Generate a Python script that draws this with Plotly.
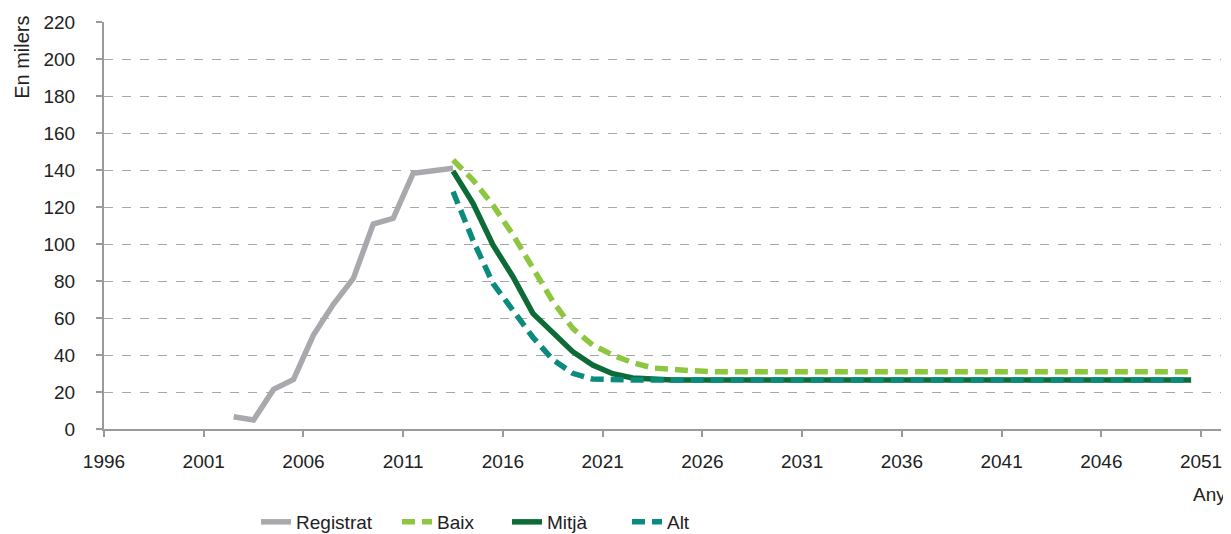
import numpy as np
import plotly.graph_objects as go

# Registered values (thousands), 2002-2013
registrat_years = list(range(2002, 2014))
registrat = [6.6, 4.9, 21.4, 26.8, 50.8, 67.4, 81.4, 110.8, 113.9, 138.2, 139.6, 140.9]

# Projection scenarios, 2013-2050
proj_years = list(range(2013, 2051))
baix = [145.4, 134.6, 121.0, 105.0, 87.0, 69.0, 54.4, 45.4, 40.0, 35.9, 33.0, 32.0, 31.5] + [31.0] * 25
mitja = [139.4, 122.0, 99.5, 82.3, 62.5, 52.3, 41.8, 34.6, 29.9, 27.6, 26.8] + [26.5] * 27
alt = [128.3, 102.0, 78.7, 63.8, 49.6, 37.5, 30.1, 27.0, 26.5] + [26.5] * 29

x_ticks = list(range(1996, 2052, 5))
y_ticks = list(range(0, 221, 20))

FONT = "Liberation Sans"
GRAY = "#A7A9AC"
LIGHT = "#8DC63F"
DARK = "#0D6B38"
TEAL = "#0B8A7E"

# points sit in the middle of each year interval
def mid(years):
    return np.array(years) + 0.5

fig = go.Figure()
fig.add_trace(go.Scatter(x=mid(registrat_years), y=registrat, name="Registrat", mode="lines",
                         line=dict(color=GRAY, width=5.5), legend="legend"))
fig.add_trace(go.Scatter(x=mid(proj_years), y=baix, name="Baix", mode="lines",
                         line=dict(color=LIGHT, width=5.5, dash="13px,7px"), legend="legend2"))
fig.add_trace(go.Scatter(x=mid(proj_years), y=mitja, name="Mitjà", mode="lines",
                         line=dict(color=DARK, width=5.5), legend="legend3"))
fig.add_trace(go.Scatter(x=mid(proj_years), y=alt, name="Alt", mode="lines",
                         line=dict(color=TEAL, width=5.5, dash="13px,7px"), legend="legend4"))

# one legend per entry so each can sit where the reference puts it
leg = dict(orientation="h", y=-0.2285, yanchor="middle", xanchor="left",
           font=dict(size=19), bgcolor="rgba(0,0,0,0)")

fig.update_layout(
    width=1223, height=526,
    margin=dict(l=96, r=10, t=14, b=105, autoexpand=False),
    plot_bgcolor="white", paper_bgcolor="white",
    font=dict(family=FONT, size=19, color="#222222"),
    showlegend=True,
    legend=dict(leg, x=0.1361),
    legend2=dict(leg, x=0.2623),
    legend3=dict(leg, x=0.3608),
    legend4=dict(leg, x=0.4682),
)
fig.update_xaxes(
    range=[1996, 2052], tickmode="array", tickvals=x_ticks,
    showgrid=False, zeroline=False,
    showline=True, linecolor="#9A9A9A", linewidth=2,
    ticks="outside", ticklen=6, tickcolor="#9A9A9A", tickwidth=2,
    ticklabelstandoff=8,
)
fig.update_yaxes(
    range=[0, 220], tickmode="array", tickvals=y_ticks,
    showgrid=True, gridcolor="#A8A8A8", griddash="dash", gridwidth=1,
    zeroline=False,
    showline=True, linecolor="#9A9A9A", linewidth=2,
    ticks="outside", ticklen=6, tickcolor="#9A9A9A", tickwidth=2,
    ticklabelstandoff=17,
)
fig.add_annotation(text="En milers", xref="paper", yref="paper", x=-0.073, y=1.02,
                   xanchor="center", yanchor="top", textangle=-90, showarrow=False,
                   font=dict(size=20))
fig.add_annotation(text="Any", xref="paper", yref="paper", x=1.006, y=-0.162,
                   xanchor="right", yanchor="middle", showarrow=False, font=dict(size=19))

fig.write_html("out.html")
